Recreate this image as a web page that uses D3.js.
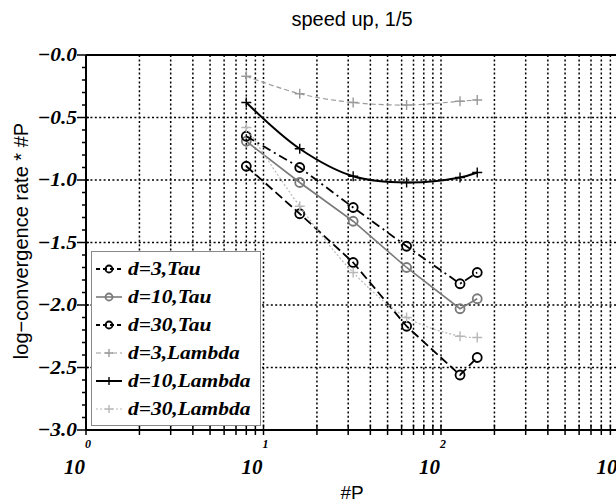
<!DOCTYPE html>
<html><head><meta charset="utf-8">
<script src="https://cdn.jsdelivr.net/npm/d3@7"></script>
<style>
html,body{margin:0;padding:0;background:#fff;}
svg{display:block;}
</style></head>
<body>
<script>
// ---- data ----
const P = [8, 16, 32, 64, 128, 160];
const seriesNames = ["d=3,Tau", "d=10,Tau", "d=30,Tau", "d=3,Lambda", "d=10,Lambda", "d=30,Lambda"];
const tauD3 = [-0.89, -1.27, -1.66, -2.17, -2.56, -2.42];
const tauD10 = [-0.69, -1.02, -1.33, -1.70, -2.03, -1.95];
const tauD30 = [-0.65, -0.90, -1.22, -1.53, -1.83, -1.74];
const lambdaD3 = [-0.17, -0.31, -0.38, -0.40, -0.37, -0.36];
const lambdaD10 = [-0.38, -0.75, -0.97, -1.02, -0.98, -0.94];
const lambdaD30 = [-0.58, -1.21, -1.74, -2.10, -2.25, -2.26];
const yTicks = [0, -0.5, -1.0, -1.5, -2.0, -2.5, -3.0];
const yTickLabels = ["\u22120.0", "\u22120.5", "\u22121.0", "\u22121.5", "\u22122.0", "\u22122.5", "\u22123.0"];
const xDecades = [1, 10, 100, 1000];
const xExps = ["0", "1", "2", "3"];
const titleText = "speed up, 1/5";
const xLabel = "#P";
const yLabel = "log\u2212convergence rate * #P";

const styles = [
  {color: "#000", dash: "9,4", width: 1.8, marker: "o"},
  {color: "#7a7a7a", dash: null, width: 1.6, marker: "o"},
  {color: "#000", dash: "9,4,2,4", width: 1.8, marker: "o"},
  {color: "#9a9a9a", dash: "5,3", width: 1.2, marker: "+"},
  {color: "#000", dash: null, width: 2, marker: "+"},
  {color: "#b8b8b8", dash: "2,2", width: 1.2, marker: "+"}
];
const allSeries = [tauD3, tauD10, tauD30, lambdaD3, lambdaD10, lambdaD30];

const W = 616, H = 504;
const serif = "Liberation Serif, Times New Roman, serif";
const sans = "Liberation Sans, Arial, sans-serif";
const svg = d3.select("body").append("svg").attr("width", W).attr("height", H);

const x = d3.scaleLog().domain([1, 1000]).range([86, 618.5]);
const y = d3.scaleLinear().domain([-3, 0]).range([430, 55]);
const [x0] = x.range();
const [yb, yt] = y.range();

svg.append("defs").append("clipPath").attr("id", "clip")
  .append("rect").attr("x", x0).attr("y", yt - 8).attr("width", W - x0).attr("height", yb - yt + 16);

// grid
const gridX = [];
for (let dec = 1; dec < 1000; dec *= 10) for (let k = 1; k <= 9; k++) { const v = dec * k; if (v > 1) gridX.push(v); }
gridX.push(1000);
const grid = svg.append("g").attr("stroke", "#000").attr("stroke-width", 1.5).attr("stroke-dasharray", "2,2.4");
grid.selectAll("line.gx").data(gridX).join("line").attr("class", "gx")
  .attr("x1", d => x(d)).attr("x2", d => x(d)).attr("y1", yt).attr("y2", yb);
grid.selectAll("line.gy").data(yTicks.filter(v => v < 0 && v > -3)).join("line").attr("class", "gy")
  .attr("y1", d => y(d)).attr("y2", d => y(d)).attr("x1", x0).attr("x2", W);

function drawMarkers(g, xy, st, r) {
  if (st.marker === "o") {
    g.selectAll(null).data(xy).join("circle")
      .attr("cx", d => d[0]).attr("cy", d => d[1]).attr("r", r)
      .attr("fill", "none").attr("stroke", st.color).attr("stroke-width", 1.8);
  } else {
    const s = r + 0.5;
    g.selectAll(null).data(xy).join("path")
      .attr("d", d => `M${d[0]-s},${d[1]}H${d[0]+s}M${d[0]},${d[1]-s}V${d[1]+s}`)
      .attr("stroke", st.color).attr("stroke-width", 1.4).attr("fill", "none");
  }
}

// lines
const plot = svg.append("g").attr("clip-path", "url(#clip)");
allSeries.forEach((vals, i) => {
  const st = styles[i];
  const pts = P.map((p, j) => [p, vals[j]]);
  const line = d3.line().x(d => x(d[0])).y(d => y(d[1]))
    .curve(i >= 3 ? d3.curveCatmullRom : d3.curveLinear);
  plot.append("path").datum(pts).attr("d", line).attr("fill", "none")
    .attr("stroke", st.color).attr("stroke-width", st.width)
    .attr("stroke-dasharray", st.dash);
  drawMarkers(plot, pts.map(d => [x(d[0]), y(d[1])]), st, 4.5);
});

// axes frame
svg.append("line").attr("x1", x0).attr("x2", W).attr("y1", yt).attr("y2", yt).attr("stroke", "#000").attr("stroke-width", 2);
svg.append("line").attr("x1", x0).attr("x2", W).attr("y1", yb).attr("y2", yb).attr("stroke", "#000").attr("stroke-width", 2);
svg.append("line").attr("x1", x0).attr("x2", x0).attr("y1", yt).attr("y2", yb).attr("stroke", "#000").attr("stroke-width", 2);

// y ticks
const yMinor = d3.range(0, 31).map(i => -i / 10);
svg.append("g").selectAll("line").data(yMinor).join("line")
  .attr("x1", d => (Math.round(d * 10) % 5 === 0) ? x0 - 9 : x0 - 4)
  .attr("x2", d => (Math.round(d * 10) % 5 === 0) ? x0 + 3 : x0)
  .attr("y1", d => y(d)).attr("y2", d => y(d))
  .attr("stroke", "#000").attr("stroke-width", 1.5);
svg.append("g").selectAll("text").data(yTicks).join("text")
  .attr("transform", d => `translate(${x0 - 9},${y(d) + 6}) scale(1.1,1)`)
  .attr("text-anchor", "end")
  .attr("font-family", serif)
  .attr("font-weight", "bold").attr("font-style", "italic").attr("font-size", 19.5)
  .text((d, i) => yTickLabels[i]);

// x ticks
const xTickVals = [];
for (let dec = 1; dec < 1000; dec *= 10) for (let k = 1; k <= 9; k++) xTickVals.push(dec * k);
xTickVals.push(1000);
svg.append("g").selectAll("line").data(xTickVals.filter(v => x(v) <= W)).join("line")
  .attr("x1", d => x(d)).attr("x2", d => x(d))
  .attr("y1", yb - 5).attr("y2", yb + 5)
  .attr("stroke", "#000").attr("stroke-width", 1.5);
const xl = svg.append("g").attr("font-family", serif)
  .attr("font-weight", "bold").attr("font-style", "italic");
xl.selectAll("text.base").data(xDecades).join("text").attr("class", "base")
  .attr("x", d => x(d) - 1).attr("y", 474).attr("text-anchor", "end").attr("font-size", 21)
  .text("10");
xl.selectAll("text.exp").data(xDecades).join("text").attr("class", "exp")
  .attr("x", d => x(d) - 1).attr("y", 448).attr("text-anchor", "start").attr("font-size", 12)
  .text((d, i) => xExps[i]);

// labels
svg.append("text").attr("x", 352).attr("y", 26).attr("text-anchor", "middle")
  .attr("font-family", sans).attr("font-size", 20).text(titleText);
svg.append("text").attr("x", 352).attr("y", 499).attr("text-anchor", "middle")
  .attr("font-family", sans).attr("font-size", 19).text(xLabel);
svg.append("text").attr("transform", "translate(28,241) rotate(-90)").attr("text-anchor", "middle")
  .attr("font-family", sans).attr("font-size", 20).text(yLabel);

// legend
const lg = svg.append("g");
lg.append("rect").attr("x", 91.5).attr("y", 251.5).attr("width", 169).attr("height", 174)
  .attr("fill", "#fff").attr("stroke", "#888").attr("stroke-width", 1);
const rowY = i => 269 + i * 28;
seriesNames.forEach((name, i) => {
  const st = styles[i];
  const cy = rowY(i);
  lg.append("line").attr("x1", 96).attr("x2", 122).attr("y1", cy).attr("y2", cy)
    .attr("stroke", st.color).attr("stroke-width", st.width).attr("stroke-dasharray", st.marker === "o" && st.dash ? "4,3" : st.dash);
  drawMarkers(lg, [[109, cy]], st, 3.5);
  lg.append("text").attr("transform", `translate(128,${cy + 6}) scale(1.1,1)`)
    .attr("font-family", serif)
    .attr("font-weight", "bold").attr("font-style", "italic").attr("font-size", 19.5)
    .text(name);
});
</script>
</body></html>
